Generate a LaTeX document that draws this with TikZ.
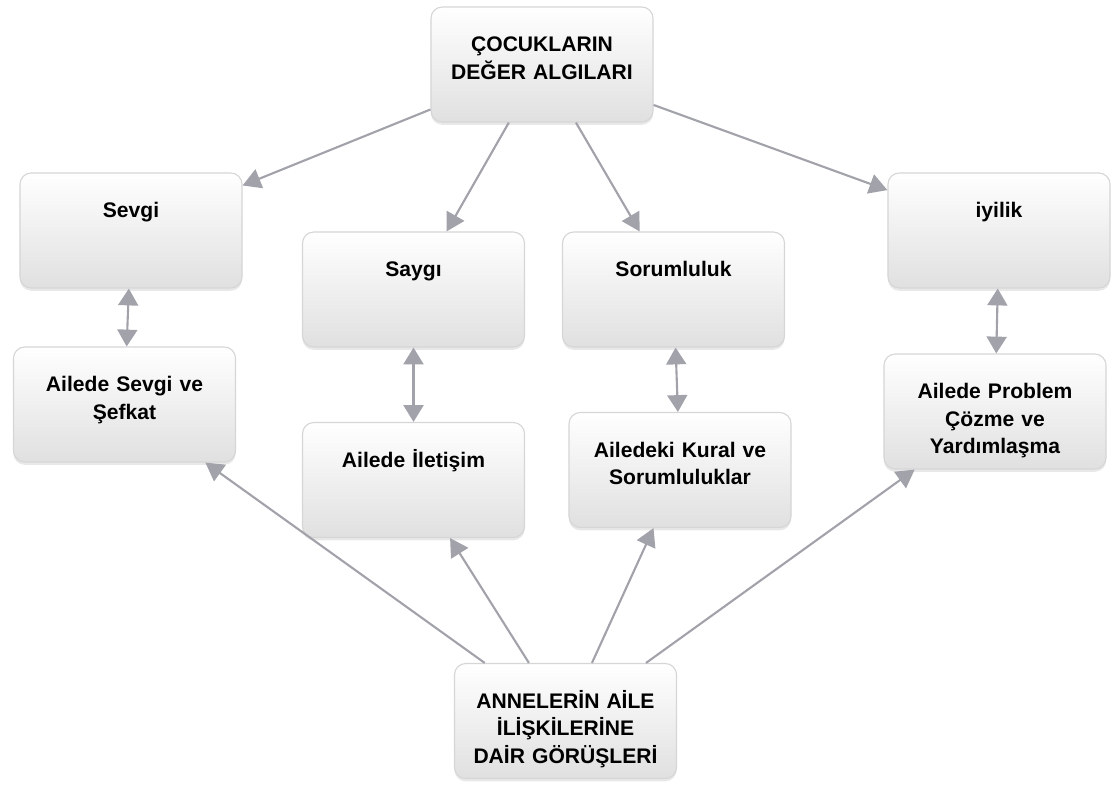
\documentclass[tikz,border=0pt]{standalone}
\usepackage{fontspec}
\setmainfont{Liberation Sans}
\usepackage{tikz}
\usetikzlibrary{arrows.meta, shadows}
\definecolor{BOXEDGE}{HTML}{D6D6D6}
\definecolor{BOXFOOT}{HTML}{E0E0E0}
\definecolor{ARRGRAY}{HTML}{A1A2AA}

\begin{document}
\begin{tikzpicture}[x=0.025cm, y=-0.025cm,
        box/.style={draw=BOXEDGE, line width=0.8pt, rounded corners=8pt,
                    top color=white, middle color=white, bottom color=BOXFOOT,
                    drop shadow={opacity=0.18, shadow xshift=0pt, shadow yshift=-2pt},
                    minimum width=5.55cm, minimum height=2.875cm,
                    text width=5.3cm, align=center, inner xsep=0.125cm, inner ysep=0pt,
                    text height=1.12cm, text depth=1.755cm,
                    font=\bfseries\fontsize{15}{19.5}\selectfont},
        arr/.style={-{Triangle[length=0.45cm, width=0.5cm]}, line width=1.5pt, color=ARRGRAY},
        dbl/.style={{Triangle[length=0.42cm, width=0.5cm]}-{Triangle[length=0.42cm, width=0.5cm]},
                    line width=1.5pt, color=ARRGRAY}
      ]
        \useasboundingbox (0,0) rectangle (1116,785);
        \node[box] (top)      at (542,64.5)  {ÇOCUKLARIN\\DEĞER ALGILARI};
        \node[box] (sevgi)    at (131,230.5) {Sevgi};
        \node[box] (saygi)    at (413.5,289.5) {Saygı};
        \node[box] (sorum)    at (673.5,289.5) {Sorumluluk};
        \node[box] (iyilik)   at (999,230.5) {iyilik};
        \node[box] (sefkat)   at (124.5,404.5) {Ailede Sevgi ve\\Şefkat};
        \node[box] (iletisim) at (413.5,480) {Ailede İletişim};
        \node[box] (kural)    at (680,470)   {Ailedeki Kural ve\\Sorumluluklar};
        \node[box] (problem)  at (995,411.5) {Ailede Problem\\Çözme ve\\Yardımlaşma};
        \node[box] (anne)     at (565.5,721) {ANNELERİN AİLE\\İLİŞKİLERİNE\\DAİR GÖRÜŞLERİ};
        \draw[arr] (top) -- (sevgi);
        \draw[arr] (top) -- (saygi);
        \draw[arr] (top) -- (sorum);
        \draw[arr] (top) -- (iyilik);
        \draw[dbl] (sevgi)  -- (sefkat);
        \draw[dbl] (saygi)  -- (iletisim);
        \draw[dbl] (sorum)  -- (kural);
        \draw[dbl] (iyilik) -- (problem);
        \draw[arr] (anne) -- (sefkat);
        \draw[arr] (anne) -- (iletisim);
        \draw[arr] (anne) -- (kural);
        \draw[arr] (anne) -- (problem);
      \end{tikzpicture}
\end{document}
